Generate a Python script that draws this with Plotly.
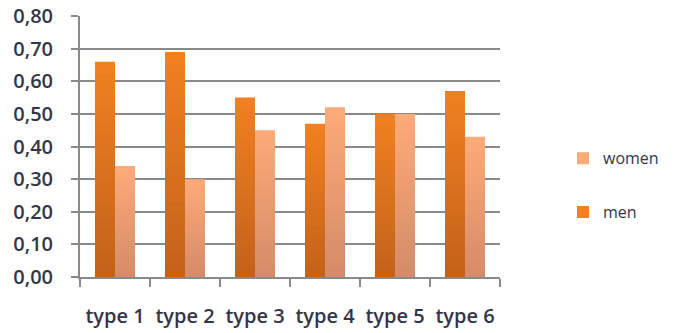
import plotly.graph_objects as go

# Share of each type by gender
categories = ["type 1", "type 2", "type 3", "type 4", "type 5", "type 6"]
men = [0.66, 0.69, 0.55, 0.47, 0.50, 0.57]
women = [0.34, 0.30, 0.45, 0.52, 0.50, 0.43]
y_ticks = [0.0, 0.1, 0.2, 0.3, 0.4, 0.5, 0.6, 0.7, 0.8]

# top / bottom colours of the vertical gradient for each series
men_colors = ((240, 128, 32), (196, 98, 26))
women_colors = ((252, 170, 120), (214, 140, 104))
STEPS = 18


def mix(top, bottom, t):
    return "rgb({},{},{})".format(*[round(a + (b - a) * t) for a, b in zip(top, bottom)])


fig = go.Figure()


def add_series(name, values, colors, rank):
    top, bottom = colors
    for k in range(STEPS):
        frac = 1 - k / STEPS
        fig.add_trace(go.Bar(
            x=categories,
            y=[v * frac for v in values],
            name=name,
            offsetgroup=name,
            legendgroup=name,
            legendrank=rank,
            showlegend=(k == 0),
            marker=dict(color=mix(top, bottom, k / (STEPS - 1)), line=dict(width=0)),
            hoverinfo="skip" if k else None,
        ))


add_series("men", men, men_colors, 2)
add_series("women", women, women_colors, 1)

grid = "#8a8a8a"
font_color = "#35354a"

fig.update_layout(
    width=683,
    height=333,
    margin=dict(l=80, r=183, t=16, b=56),
    paper_bgcolor="white",
    plot_bgcolor="white",
    barmode="group",
    bargap=0.43,
    bargroupgap=0,
    separators=", ",
    font=dict(family="Open Sans", color=font_color, size=20),
    legend=dict(
        x=1.15, xanchor="left",
        y=0.52, yanchor="top",
        traceorder="grouped",
        tracegroupgap=30,
        font=dict(size=16, color=font_color, weight=500),
        bgcolor="rgba(0,0,0,0)",
    ),
    xaxis=dict(
        automargin=False,
        showgrid=False,
        showline=True,
        linecolor=grid,
        linewidth=2,
        ticks="outside",
        tickson="boundaries",
        ticklen=8,
        tickwidth=2,
        tickcolor=grid,
        ticklabelstandoff=20,
        tickfont=dict(size=20, weight=600),
    ),
    yaxis=dict(
        automargin=False,
        range=[0, 0.8],
        tickvals=y_ticks,
        tickformat=".2f",
        showgrid=True,
        gridcolor=grid,
        gridwidth=2,
        showline=True,
        linecolor=grid,
        linewidth=2,
        ticks="outside",
        ticklen=7,
        tickwidth=2,
        tickcolor=grid,
        ticklabelstandoff=14,
        zeroline=False,
        tickfont=dict(size=20, weight=600),
    ),
)

fig.write_html("out.html")
